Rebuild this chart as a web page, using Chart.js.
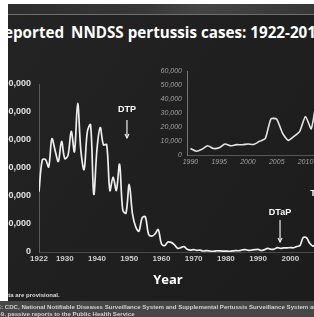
<!DOCTYPE html>
<html><head><meta charset="utf-8">
<script src="https://cdn.jsdelivr.net/npm/chart.js@4"></script>
<style>
html,body{margin:0;padding:0;background:#fff;width:314px;height:317px;overflow:hidden;position:relative;font-family:"Liberation Sans",Arial,sans-serif;}
#slide{position:absolute;left:8px;top:4px;width:306px;height:313px;overflow:hidden;background:linear-gradient(125deg,#242424 0%,#202020 40%,#1c1c1c 100%);}
#band{position:absolute;left:0;top:0;width:306px;height:10px;background:linear-gradient(100deg,#2c2c2c 0%,#383838 45%,#454545 62%,#363636 100%);border-bottom:1px solid #6e6e6e;}
#title{position:absolute;left:-14px;top:20px;white-space:nowrap;font:bold 15.2px "Open Sans";color:#fff;line-height:16px;}
#title .gap{display:inline-block;width:3px;}
#yearLbl{position:absolute;left:130px;top:268px;width:60px;text-align:center;font:bold 13px "Open Sans";color:#fff;line-height:14px;}
#prov{position:absolute;left:-24px;top:288px;white-space:nowrap;font:bold 6px "Liberation Sans";color:#ddd;line-height:7px;}
#mainWrap{position:absolute;left:-28px;top:-4px;width:380px;height:317px;}
#insetWrap{position:absolute;left:132px;top:56px;width:200px;height:115px;}
#footer{position:absolute;left:0;top:301px;width:314px;height:16px;background:#464646;overflow:hidden;}
.fl{position:absolute;white-space:nowrap;font:bold 6.1px "Liberation Sans";color:#d0d0d0;line-height:7px;}
</style></head>
<body>
<div id="slide">
  <div id="band"></div>
  <div id="title">Reported<span class="gap"></span> NNDSS pertussis cases: 1922-2012*</div>
  <div id="mainWrap"><canvas id="main" width="380" height="317"></canvas></div>
  <div id="insetWrap"><canvas id="inset" width="200" height="115"></canvas></div>
  <div id="yearLbl">Year</div>
  <div id="prov">*2012 data are provisional.</div>
</div>
<div id="footer">
  <div class="fl" style="left:-25px;top:1.5px;">SOURCE: CDC, National Notifiable Diseases Surveillance System and Supplemental Pertussis Surveillance System and</div>
  <div class="fl" style="left:-25px;top:8.5px;">1922-1949, passive reports to the Public Health Service</div>
</div>
<script>
const years = [1922,1923,1924,1925,1926,1927,1928,1929,1930,1931,1932,1933,1934,1935,1936,1937,1938,1939,
1940,1941,1942,1943,1944,1945,1946,1947,1948,1949,1950,1951,1952,1953,1954,1955,1956,1957,1958,1959,
1960,1961,1962,1963,1964,1965,1966,1967,1968,1969,1970,1971,1972,1973,1974,1975,1976,1977,1978,1979,
1980,1981,1982,1983,1984,1985,1986,1987,1988,1989,1990,1991,1992,1993,1994,1995,1996,1997,1998,1999,
2000,2001,2002,2003,2004,2005,2006,2007,2008,2009,2010,2011,2012];
const cases = [107473,164191,165418,152003,202210,181411,161799,197371,166914,172559,215343,179135,265269,180518,147237,214652,227319,103188,
183866,222202,191383,191890,109873,133792,109860,156517,74715,69479,120718,68687,45030,37129,60886,62786,31732,28295,32148,40005,
14809,11468,17749,17135,13005,6799,7717,9718,4810,3285,4249,3036,3287,1759,2402,1738,1010,2177,2063,1623,
1730,1248,1895,2463,2276,3589,4195,2823,3450,4157,4570,2719,4083,6586,4617,5137,7796,6564,7405,7288,
7867,7580,9771,11647,25827,25616,15632,10454,13278,16858,27550,18719,41880];
const mainXTicks = [1922,1930,1940,1950,1960,1970,1980,1990,2000,2010];
const insetStart = 1990;
const insetXTicks = [1990,1995,2000,2005,2010];

const vaccineNotes = {
  id:'vaccineNotes',
  afterDatasetsDraw(chart, args, opts){
    const {ctx, scales:{x,y}} = chart;
    ctx.save();
    opts.items.forEach(it=>{
      const px = x.getPixelForValue(it.year);
      const ty = y.getPixelForValue(it.textAt);
      const a1 = y.getPixelForValue(it.from), a2 = y.getPixelForValue(it.to);
      ctx.fillStyle='#fff'; ctx.font='bold 9px "Liberation Sans"';
      ctx.textAlign='center'; ctx.textBaseline='middle';
      ctx.fillText(it.text, px, ty);
      ctx.strokeStyle='#eee'; ctx.lineWidth=1.2;
      ctx.beginPath(); ctx.moveTo(px,a1); ctx.lineTo(px,a2); ctx.stroke();
      ctx.beginPath(); ctx.moveTo(px-2,a2-4); ctx.lineTo(px,a2); ctx.lineTo(px+2,a2-4); ctx.stroke();
    });
    ctx.restore();
  }
};

new Chart(document.getElementById('main'), {
  type:'line',
  data:{datasets:[{data:years.map((yr,i)=>({x:yr,y:cases[i]})),borderColor:'#eeeeee',borderWidth:1.7,pointRadius:0,tension:0.35}]},
  options:{
    responsive:false, animation:false,
    layout:{padding:{left:0,top:84,right:31,bottom:0}},
    plugins:{legend:{display:false},tooltip:{enabled:false},
      vaccineNotes:{items:[
        {text:'DTP',year:1949.3,textAt:253600,from:235700,to:203600},
        {text:'DTaP',year:1996.8,textAt:71400,from:57100,to:17900},
        {text:'Tdap',year:2009.5,textAt:105000,from:93000,to:55000}
      ]}},
    scales:{
      x:{type:'linear',min:1922,max:2012,
        grid:{display:false,drawTicks:false},border:{display:true,color:'#4a4a4a',width:1},
        afterBuildTicks:s=>{s.ticks=mainXTicks.map(v=>({value:v}));},
        afterFit:s=>{s.height=65;},
        ticks:{autoSkip:false,maxRotation:0,padding:2,color:'#cfcfcf',font:{family:'Liberation Sans',size:8,weight:'bold'},callback:v=>String(v)}},
      y:{min:0,max:300000,
        grid:{display:false,drawTicks:false},border:{display:true,color:'#5a5a5a',width:1},
        afterFit:s=>{s.width=59;},
        ticks:{stepSize:50000,padding:8,color:'#e2e2e2',font:{family:'Liberation Sans',size:9,weight:'bold'},callback:v=>v.toLocaleString('en-US')}}
    }
  },
  plugins:[vaccineNotes]
});

const i0 = years.indexOf(insetStart);
const insetYears = years.slice(i0), insetCases = cases.slice(i0);
new Chart(document.getElementById('inset'), {
  type:'line',
  data:{datasets:[{data:insetYears.map((yr,i)=>({x:yr,y:insetCases[i]})),borderColor:'#e4e4e4',borderWidth:1.6,pointRadius:0,tension:0.2}]},
  options:{
    responsive:false, animation:false,
    layout:{padding:{left:0,top:11,right:23,bottom:0}},
    plugins:{legend:{display:false},tooltip:{enabled:false}},
    scales:{
      x:{type:'linear',min:1989.4,max:2012,
        grid:{display:false,drawTicks:false},border:{display:true,color:'#555',width:1},
        afterBuildTicks:s=>{s.ticks=insetXTicks.map(v=>({value:v}));},
        afterFit:s=>{s.height=20;},
        ticks:{autoSkip:false,maxRotation:0,padding:3,color:'#a0a0a0',font:{family:'Liberation Sans',size:7,style:'italic'},callback:v=>String(v)}},
      y:{min:0,max:60000,
        grid:{display:false,drawTicks:false},border:{display:true,color:'#777',width:1},
        afterFit:s=>{s.width=47;},
        ticks:{stepSize:10000,padding:5,color:'#a0a0a0',font:{family:'Liberation Sans',size:7,style:'italic'},callback:v=>v.toLocaleString('en-US')}}
    }
  }
});
</script>
</body></html>
